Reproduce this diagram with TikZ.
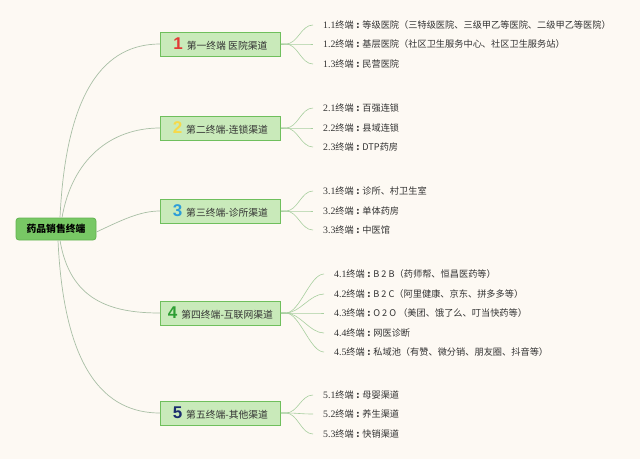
\documentclass[tikz,border=0pt]{standalone}
\usepackage{fontspec}
\setmainfont{Liberation Serif}
\newfontfamily\cjk{Noto Sans CJK SC}
\newfontfamily\numfont{Liberation Sans}
\definecolor{bg}{HTML}{FDF9F3}
\definecolor{rootfill}{HTML}{78C865}
\definecolor{rootdraw}{HTML}{62B450}
\definecolor{brfill}{HTML}{C9EABA}
\definecolor{brdraw}{HTML}{6FBF5C}
\definecolor{linkc}{HTML}{A9BFA6}
\definecolor{leafc}{HTML}{A8CFA0}
\definecolor{txt}{HTML}{333333}
\definecolor{n1}{HTML}{E23A36}
\definecolor{n2}{HTML}{F6D94A}
\definecolor{n3}{HTML}{2D9ED8}
\definecolor{n4}{HTML}{2E9E34}
\definecolor{n5}{HTML}{1B2D6E}
\newcommand{\bignum}[2]{{\fontsize{17}{17}\selectfont\numfont\bfseries\color{#1}#2}\hspace{4pt}}
\newcommand{\lf}[2]{{\rmfamily\fontsize{9.8}{10}\selectfont #1}终端\makebox[8.5pt][c]{\bfseries :}#2}
\begin{document}
\begin{tikzpicture}[x=1pt,y=-1pt,
  rootbox/.style={draw=rootdraw,fill=rootfill,rounded corners=3pt,line width=0.8pt,
     minimum width=80pt,minimum height=22pt,inner sep=0pt,font=\cjk\fontsize{9.8}{10}\selectfont\bfseries,text=black},
  brbox/.style={draw=brdraw,fill=brfill,line width=0.8pt,anchor=west,
     minimum width=120pt,minimum height=24pt,inner sep=0pt,font=\cjk\fontsize{9.8}{10}\selectfont,text=txt},
  leaf/.style={anchor=west,inner sep=0pt,font=\cjk\fontsize{9.2}{10}\selectfont,text=txt},
  rlink/.style={draw=linkc,line width=0.7pt},
  llink/.style={draw=leafc,line width=0.6pt}]
\fill[bg] (0,0) rectangle (640,459);
\useasboundingbox (0,0) rectangle (640,459);

\node[rootbox] (root) at (56,229) {药品销售终端};

\node[brbox] (b1) at (160,44) {\bignum{n1}{1}第一终端 医院渠道};
\node[brbox] (b2) at (160,128) {\bignum{n2}{2}第二终端-连锁渠道};
\node[brbox] (b3) at (160,211) {\bignum{n3}{3}第三终端-诊所渠道};
\node[brbox] (b4) at (160,313) {\bignum{n4}{4}第四终端-互联网渠道};
\node[brbox] (b5) at (160,413) {\bignum{n5}{5}第五终端-其他渠道};

\draw[rlink] ([xshift=4pt]root.north) .. controls (66,90) and (105,44) .. (b1.west);
\draw[rlink] ([xshift=6pt]root.north) .. controls (72,160) and (110,128) .. (b2.west);
\draw[rlink] ([yshift=-3pt]root.east) .. controls (122,220) and (140,211) .. (b3.west);
\draw[rlink] ([xshift=4pt]root.south) .. controls (70,300) and (110,313) .. (b4.west);
\draw[rlink] ([xshift=2pt]root.south) .. controls (64,370) and (105,413) .. (b5.west);

% leaves 1
\node[leaf] (l11) at (323,25) {\lf{1.1}{等级医院（三特级医院、三级甲乙等医院、二级甲乙等医院）}};
\node[leaf] (l12) at (323,44) {\lf{1.2}{基层医院（社区卫生服务中心、社区卫生服务站）}};
\node[leaf] (l13) at (323,64) {\lf{1.3}{民营医院}};
% leaves 2
\node[leaf] (l21) at (323,108) {\lf{2.1}{百强连锁}};
\node[leaf] (l22) at (323,128) {\lf{2.2}{县域连锁}};
\node[leaf] (l23) at (323,147) {\lf{2.3}{DTP药房}};
% leaves 3
\node[leaf] (l31) at (323,191) {\lf{3.1}{诊所、村卫生室}};
\node[leaf] (l32) at (323,211) {\lf{3.2}{单体药房}};
\node[leaf] (l33) at (323,230) {\lf{3.3}{中医馆}};
% leaves 4
\node[leaf] (l41) at (334,274) {\lf{4.1}{B 2 B（药师帮、恒昌医药等）}};
\node[leaf] (l42) at (334,294) {\lf{4.2}{B 2 C（阿里健康、京东、拼多多等）}};
\node[leaf] (l43) at (334,313) {\lf{4.3}{O 2 O （美团、饿了么、叮当快药等）}};
\node[leaf] (l44) at (334,333) {\lf{4.4}{网医诊断}};
\node[leaf] (l45) at (334,352) {\lf{4.5}{私域池（有赞、微分销、朋友圈、抖音等）}};
% leaves 5
\node[leaf] (l51) at (323,395) {\lf{5.1}{母婴渠道}};
\node[leaf] (l52) at (323,414) {\lf{5.2}{养生渠道}};
\node[leaf] (l53) at (323,434) {\lf{5.3}{快销渠道}};

\foreach \b/\ls in {b1/{l11,l12,l13},b2/{l21,l22,l23},b3/{l31,l32,l33},b5/{l51,l52,l53}}{
  \foreach \l in \ls {
    \draw[llink] (\b.east) -- ++(5,0) .. controls +(12,0) and ([xshift=-22pt]\l.west) .. ([xshift=-10pt]\l.west);
  }
}
\foreach \l in {l41,l42,l43,l44,l45}{
  \draw[llink] (b4.east) -- ++(5,0) .. controls +(14,0) and ([xshift=-24pt]\l.west) .. ([xshift=-10pt]\l.west);
}
\end{tikzpicture}
\end{document}
